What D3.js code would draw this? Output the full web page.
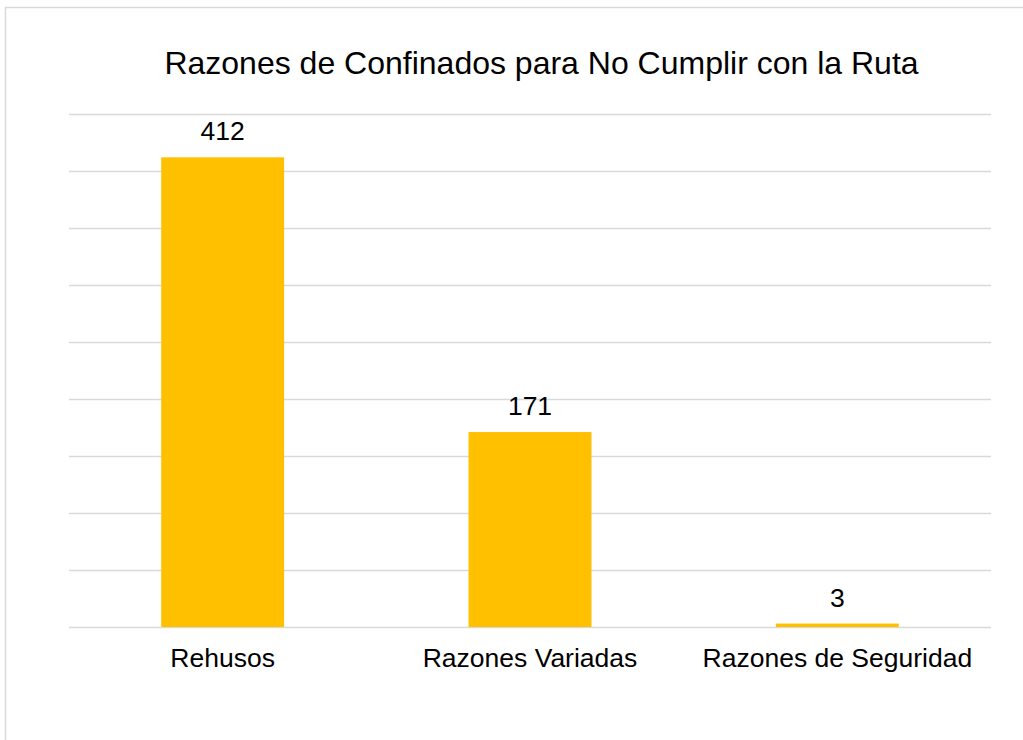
<!DOCTYPE html>
<html>
<head>
<meta charset="utf-8">
<script src="https://cdn.jsdelivr.net/npm/d3@7"></script>
<style>
  html, body { margin: 0; padding: 0; background: #fff; }
  text { font-family: "Liberation Sans", Arial, sans-serif; fill: #000; }
</style>
</head>
<body>
<div id="chart"></div>
<script>
var categories = ["Rehusos", "Razones Variadas", "Razones de Seguridad"];
var values = [412, 171, 3];
var yTicks = [0, 50, 100, 150, 200, 250, 300, 350, 400, 450];
var title = "Razones de Confinados para No Cumplir con la Ruta";

var W = 1023, H = 740;
var m = { left: 69, right: 32, top: 114, bottom: 113 };

var svg = d3.select("#chart").append("svg")
  .attr("width", W)
  .attr("height", H);

// outer frame (runs off the right and bottom edges)
svg.append("rect")
  .attr("x", 5.5).attr("y", 7.5)
  .attr("width", W + 20).attr("height", H + 20)
  .attr("fill", "none")
  .attr("stroke", "#d9d9d9")
  .attr("stroke-width", 1.5);

var x = d3.scaleBand()
  .domain(categories)
  .range([m.left, W - m.right])
  .paddingInner(0.6)
  .paddingOuter(0.3);

var y = d3.scaleLinear()
  .domain([0, 450])
  .range([H - m.bottom, m.top]);

// gridlines
svg.append("g")
  .attr("transform", "translate(" + m.left + ",0)")
  .call(d3.axisLeft(y).tickValues(yTicks).tickSize(-(W - m.left - m.right)).tickFormat(""))
  .call(function(g) {
    g.select(".domain").remove();
    g.selectAll("line").attr("stroke", "#d9d9d9").attr("stroke-width", 1.5);
  });

// bars
svg.selectAll("rect.bar")
  .data(values)
  .enter().append("rect")
  .attr("class", "bar")
  .attr("x", function(d, i) { return x(categories[i]); })
  .attr("y", function(d) { return y(d); })
  .attr("width", x.bandwidth())
  .attr("height", function(d) { return y(0) - y(d); })
  .attr("fill", "#ffc000");

// value labels
svg.selectAll("text.val")
  .data(values)
  .enter().append("text")
  .attr("class", "val")
  .attr("x", function(d, i) { return x(categories[i]) + x.bandwidth() / 2; })
  .attr("y", function(d) { return y(d) - 17; })
  .attr("text-anchor", "middle")
  .attr("font-size", 26.5)
  .text(function(d) { return d; });

// category axis
svg.append("g")
  .attr("transform", "translate(0," + y(0) + ")")
  .call(d3.axisBottom(x).tickSize(0).tickPadding(21))
  .call(function(g) {
    g.select(".domain").remove();
    g.selectAll("text")
      .attr("font-size", 26.5)
      .attr("font-family", "Liberation Sans, Arial, sans-serif")
      .attr("fill", "#000");
  });

// title
svg.append("text")
  .attr("x", 541.5)
  .attr("y", 73.5)
  .attr("text-anchor", "middle")
  .attr("font-size", 32)
  .text(title);
</script>
</body>
</html>
